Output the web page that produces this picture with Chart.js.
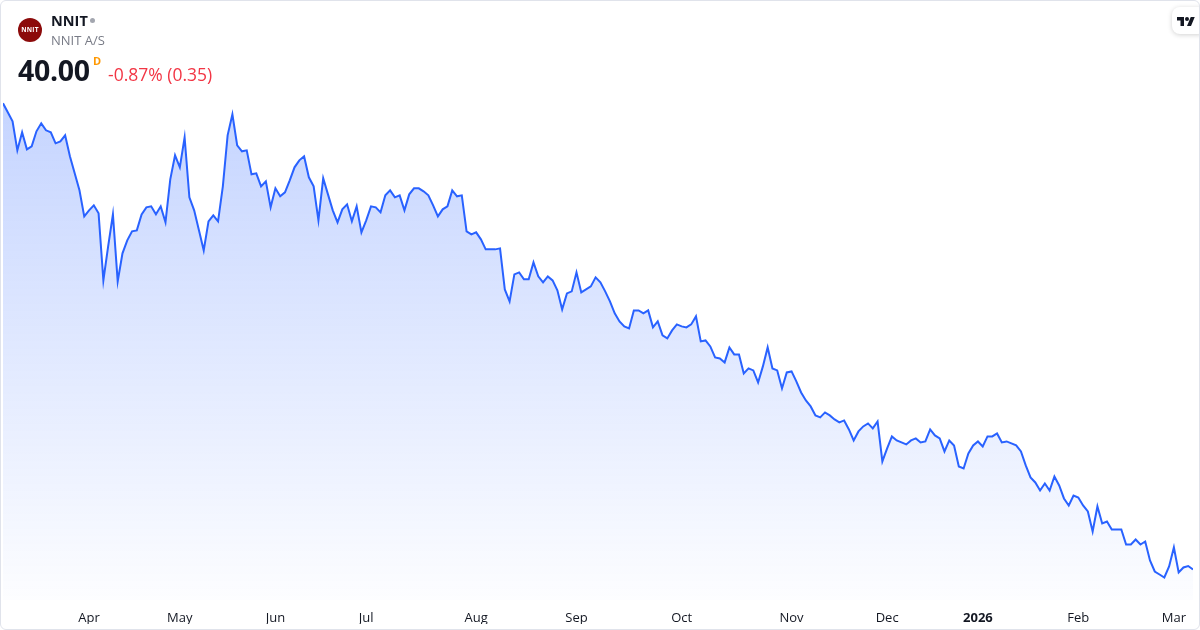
<!DOCTYPE html>
<html>
<head>
<meta charset="utf-8">
<script src="https://cdn.jsdelivr.net/npm/chart.js@4.4.1/dist/chart.umd.min.js"></script>
<style>
  body { margin: 0; background: #fff; font-family: "Open Sans", sans-serif; }
  #wrap { position: relative; width: 1200px; height: 630px; overflow: hidden; }
  #frame { position: absolute; left: 0; top: 0; width: 1198px; height: 628px; border: 1px solid #e0e3eb; border-radius: 6px; pointer-events: none; }
  .abs { position: absolute; white-space: nowrap; }
  #logo { left: 18px; top: 18px; width: 24px; height: 24px; border-radius: 50%; background: #8c0b0b; color: #fff; font: bold 6.5px "Open Sans"; text-align: center; line-height: 24px; letter-spacing: 0.2px; }
  #sym { left: 51px; top: 11px; font-weight: 700; font-size: 14.5px; color: #131722; }
  #dot { left: 90px; top: 18px; width: 5px; height: 5px; border-radius: 50%; background: #a3a6af; }
  #name { left: 51px; top: 31px; font-size: 13px; color: #787b86; }
  #price { left: 18px; top: 51px; font-weight: 700; font-size: 28.5px; color: #131722; letter-spacing: -0.3px; }
  #iv { left: 93px; top: 53px; font-weight: 700; font-size: 11px; color: #ff9800; }
  #chg { left: 108px; top: 62px; font-size: 17.5px; color: #f23645; }
  #tv { right: -6px; top: 7px; width: 34px; height: 27px; background: #fff; border-radius: 8px; box-shadow: 0 1px 5px rgba(0,0,0,0.18); }
  #tv svg { position: absolute; left: 5px; top: 8px; }
</style>
</head>
<body>
<div id="wrap">
  <canvas id="priceChart"></canvas>
  <div class="abs" id="logo">NNIT</div>
  <div class="abs" id="sym">NNIT</div>
  <div class="abs" id="dot"></div>
  <div class="abs" id="name">NNIT A/S</div>
  <div class="abs" id="price">40.00</div>
  <div class="abs" id="iv">D</div>
  <div class="abs" id="chg">-0.87% (0.35)</div>
  <div class="abs" id="tv"><svg width="18" height="12" viewBox="0 0 36 24"><path d="M14 22H7V11H0V4h14v18zM28 22h-8l7.5-18h8L28 22z" fill="#131722"/><circle cx="20" cy="8" r="4" fill="#131722"/></svg></div>
  <div id="frame"></div>
</div>
<script>
// daily closes, 6 Mar 2025 -> 6 Mar 2026 (one per trading day)
const closes = [
  86.6, 85.7, 84.8, 81.9, 83.7, 82.0, 82.3, 83.8, 84.6, 83.9,
  83.7, 82.6, 82.8, 83.4, 81.3, 79.6, 77.9, 75.3, 75.9, 76.4,
  75.6, 68.9, 72.3, 75.5, 68.8, 71.6, 72.9, 73.8, 73.9, 75.5,
  76.2, 76.3, 75.5, 76.3, 74.7, 79.0, 81.4, 80.2, 83.2, 77.2,
  75.9, 73.9, 71.9, 74.8, 75.4, 74.8, 78.3, 83.4, 85.5, 82.4,
  81.8, 81.9, 79.5, 79.6, 78.3, 78.8, 76.2, 78.1, 77.3, 77.7,
  78.9, 80.2, 80.9, 81.3, 79.2, 78.3, 74.9, 79.1, 77.5, 75.9,
  74.7, 76.0, 76.5, 74.8, 76.3, 73.7, 74.9, 76.3, 76.2, 75.7,
  77.4, 77.9, 77.2, 77.4, 75.9, 77.5, 78.1, 78.1, 77.8, 77.4,
  76.4, 75.3, 76.0, 76.3, 77.9, 77.3, 77.4, 73.8, 73.5, 73.7,
  73.0, 72.0, 72.0, 72.0, 72.1, 68.0, 66.8, 69.5, 69.7, 69.0,
  69.0, 70.7, 69.3, 68.7, 69.3, 68.9, 67.9, 66.0, 67.6, 67.8,
  69.7, 67.7, 68.0, 68.3, 69.2, 68.7, 67.8, 66.8, 65.6, 64.8,
  64.3, 64.1, 65.9, 65.9, 65.6, 65.9, 64.2, 64.8, 63.4, 63.1,
  63.9, 64.5, 64.3, 64.2, 64.5, 65.3, 62.8, 62.9, 62.3, 61.2,
  61.1, 60.7, 62.2, 61.5, 61.5, 59.6, 60.1, 59.9, 58.7, 60.3,
  62.2, 60.1, 59.9, 58.1, 59.7, 59.8, 58.8, 57.7, 56.9, 56.3,
  55.4, 55.2, 55.7, 55.4, 55.0, 54.7, 54.9, 54.0, 52.9, 53.8,
  54.3, 54.6, 54.1, 54.8, 50.8, 52.1, 53.3, 52.9, 52.7, 52.5,
  52.9, 53.1, 52.7, 52.8, 54.0, 53.4, 53.1, 51.8, 52.9, 52.4,
  50.3, 50.1, 51.6, 52.4, 52.8, 52.3, 53.3, 53.3, 53.6, 52.7,
  52.8, 52.6, 52.4, 51.8, 50.4, 49.2, 48.7, 47.9, 48.6, 47.9,
  49.3, 48.4, 47.1, 46.4, 47.4, 47.2, 46.4, 45.8, 43.8, 46.3,
  44.6, 44.8, 44.0, 44.0, 44.0, 42.5, 42.5, 43.0, 42.5, 42.8,
  40.9, 39.8, 39.5, 39.2, 40.3, 42.2, 39.7, 40.2, 40.35, 40.0,
];

// first trading day of each month, as index into closes
const tickIndex = [18, 37, 57, 76, 99, 120, 142, 165, 185, 204, 225, 245];
const tickLabels = ["Apr", "May", "Jun", "Jul", "Aug", "Sep", "Oct", "Nov", "Dec", "2026", "Feb", "Mar"];

const ctx = document.getElementById("priceChart").getContext("2d");

new Chart(ctx, {
  type: "line",
  data: {
    datasets: [
      {
        data: closes.map((c, i) => ({ x: i, y: c })),
        borderColor: "#2962FF",
        borderWidth: 2,
        pointRadius: 0,
        tension: 0,
        fill: "start",
        backgroundColor: (c) => {
          const area = c.chart.chartArea;
          if (!area) return "rgba(41,98,255,0.2)";
          const g = c.chart.ctx.createLinearGradient(0, area.top, 0, area.bottom);
          g.addColorStop(0, "rgba(41,98,255,0.28)");
          g.addColorStop(1, "rgba(41,98,255,0.01)");
          return g;
        },
      },
    ],
  },
  options: {
    responsive: true,
    maintainAspectRatio: false,
    animation: false,
    layout: { padding: { top: 90, left: 3, right: 7, bottom: 6 } },
    plugins: { legend: { display: false }, tooltip: { enabled: false } },
    scales: {
      x: {
        type: "linear",
        min: 0,
        max: closes.length - 1,
        grid: { display: false, drawTicks: false },
        border: { display: false },
        afterBuildTicks: (scale) => {
          scale.ticks = tickIndex.map((v) => ({ value: v }));
        },
        afterFit: (scale) => {
          scale.height = 24; // keep plot bottom at ~600px
        },
        ticks: {
          autoSkip: false,
          maxRotation: 0,
          padding: 10,
          color: "#131722",
          font: (c) => ({
            family: "Open Sans",
            size: 13,
            weight: c.tick && c.tick.label === "2026" ? "bold" : "normal",
          }),
          callback: (v) => tickLabels[tickIndex.indexOf(v)],
        },
      },
      y: {
        display: false,
        min: 36.95,
        max: 87.93,
      },
    },
  },
});
</script>
</body>
</html>
